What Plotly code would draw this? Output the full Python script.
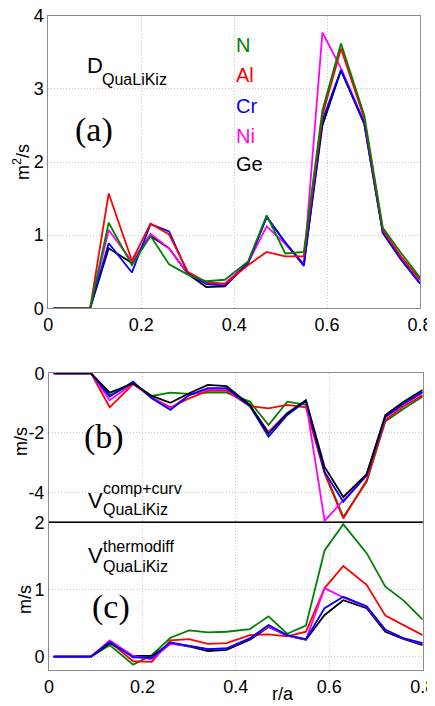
import plotly.graph_objects as go

# ---- data ----
r = [0.01, 0.05, 0.09, 0.13, 0.18, 0.22, 0.26, 0.30, 0.34, 0.38,
     0.43, 0.47, 0.51, 0.55, 0.59, 0.63, 0.68, 0.72, 0.76, 0.80]

species = ["N", "Al", "Cr", "Ni", "Ge"]
colors = {"N": "#008000", "Al": "#ff0000", "Cr": "#0000ff", "Ni": "#ff00ff", "Ge": "#000000"}

D_N  = [0, 0, 0, 1.17, 0.59, 0.99, 0.60, 0.46, 0.37, 0.39, 0.64, 1.27, 0.75, 0.77, 2.71, 3.62, 2.64, 1.10, 0.75, 0.42]
D_Al = [0, 0, 0, 1.57, 0.65, 1.16, 1.01, 0.50, 0.36, 0.33, 0.59, 0.77, 0.71, 0.71, 2.64, 3.55, 2.60, 1.07, 0.70, 0.39]
D_Cr = [0, 0, 0, 0.89, 0.49, 1.15, 1.05, 0.48, 0.33, 0.31, 0.62, 1.25, 0.90, 0.58, 2.57, 3.26, 2.53, 1.03, 0.66, 0.34]
D_Ni = [0, 0, 0, 1.07, 0.64, 1.02, 0.82, 0.48, 0.34, 0.34, 0.62, 1.12, 0.88, 0.60, 3.77, 3.28, 2.55, 1.04, 0.67, 0.35]
D_Ge = [0, 0, 0, 0.82, 0.62, 0.99, 0.82, 0.47, 0.29, 0.30, 0.62, 1.25, 0.90, 0.60, 2.50, 3.25, 2.52, 1.03, 0.66, 0.34]

Vcc_N  = [0, 0, 0, -0.73, -0.36, -0.76, -0.65, -0.69, -0.65, -0.65, -0.95, -1.74, -0.95, -1.06, -3.31, -4.82, -3.64, -1.62, -1.18, -0.78]
Vcc_Al = [0, 0, 0, -1.14, -0.36, -0.81, -1.14, -0.84, -0.59, -0.59, -1.10, -1.18, -1.06, -1.14, -3.36, -4.87, -3.59, -1.57, -1.10, -0.73]
Vcc_Cr = [0, 0, 0, -0.78, -0.28, -0.84, -1.23, -0.73, -0.50, -0.50, -1.10, -2.13, -1.40, -0.93, -3.31, -4.31, -3.42, -1.46, -1.01, -0.62]
Vcc_Ni = [0, 0, 0, -0.90, -0.34, -0.81, -1.18, -0.73, -0.54, -0.54, -1.10, -1.96, -1.34, -0.95, -4.95, -4.26, -3.42, -1.48, -1.03, -0.65]
Vcc_Ge = [0, 0, 0, -0.65, -0.34, -0.76, -0.99, -0.67, -0.39, -0.43, -1.06, -2.02, -1.34, -0.90, -3.14, -4.15, -3.38, -1.40, -0.95, -0.56]

Vtd_N  = [0, 0, 0, 0.17, -0.12, 0.02, 0.28, 0.39, 0.36, 0.37, 0.41, 0.60, 0.34, 0.46, 1.58, 1.97, 1.54, 1.04, 0.83, 0.55]
Vtd_Al = [0, 0, 0, 0.22, -0.07, -0.08, 0.24, 0.26, 0.19, 0.20, 0.32, 0.33, 0.30, 0.37, 1.02, 1.35, 1.07, 0.61, 0.46, 0.32]
Vtd_Cr = [0, 0, 0, 0.22, -0.01, -0.02, 0.21, 0.16, 0.11, 0.12, 0.27, 0.47, 0.32, 0.26, 0.72, 0.89, 0.75, 0.40, 0.27, 0.20]
Vtd_Ni = [0, 0, 0, 0.24, 0.01, -0.04, 0.19, 0.16, 0.11, 0.12, 0.27, 0.45, 0.31, 0.25, 1.02, 0.88, 0.74, 0.40, 0.27, 0.19]
Vtd_Ge = [0, 0, 0, 0.20, 0.01, 0.01, 0.20, 0.15, 0.08, 0.10, 0.25, 0.44, 0.31, 0.25, 0.62, 0.84, 0.72, 0.37, 0.26, 0.17]

x_ticks = [0, 0.2, 0.4, 0.6, 0.8]
x_ticktext = ["0", "0.2", "0.4", "0.6", "0.8"]
ya_ticks = [0, 1, 2, 3, 4]
yb_ticks = [0, -2, -4]
yb_ticktext = ["0", "-2", "-4"]
yc_ticks = [0, 1, 2]

D = {"N": D_N, "Al": D_Al, "Cr": D_Cr, "Ni": D_Ni, "Ge": D_Ge}
Vcc = {"N": Vcc_N, "Al": Vcc_Al, "Cr": Vcc_Cr, "Ni": Vcc_Ni, "Ge": Vcc_Ge}
Vtd = {"N": Vtd_N, "Al": Vtd_Al, "Cr": Vtd_Cr, "Ni": Vtd_Ni, "Ge": Vtd_Ge}

order_a = ["Ge", "Ni", "Cr", "Al", "N"]
order_b = ["N", "Al", "Ni", "Cr", "Ge"]
order_c = ["N", "Al", "Ge", "Ni", "Cr"]

# page body has an 8px margin: the figure is placed at (8, 8) in the window
OFF = 8
W, H = 435 - OFF, 706 - OFF
ML, MR, MT, MB = 40, 12, 7, 36
PW, PH = W - ML - MR, H - MT - MB

def clamp(v):
    return max(0.0, min(1.0, v))

def px(x):  # window pixel -> paper
    return (x - OFF - ML) / PW

def py(y):
    return (H - MB - (y - OFF)) / PH

fig = go.Figure()
lw = 1.8
for s in order_a:
    fig.add_trace(go.Scatter(x=r, y=D[s], mode="lines", line=dict(color=colors[s], width=lw),
                             xaxis="x", yaxis="y", showlegend=False))
for s in order_b:
    fig.add_trace(go.Scatter(x=r, y=Vcc[s], mode="lines", line=dict(color=colors[s], width=lw),
                             xaxis="x2", yaxis="y2", showlegend=False))
for s in order_c:
    fig.add_trace(go.Scatter(x=r, y=Vtd[s], mode="lines", line=dict(color=colors[s], width=lw),
                             xaxis="x3", yaxis="y3", showlegend=False))

FONT = "Liberation Sans, Arial, sans-serif"
SERIF = "Liberation Serif, Times New Roman, serif"
tickfont = dict(family=FONT, size=18, color="black")
frame = "#8c8c8c"
grid = "#c8c8c8"

common_x = dict(range=[0, 0.8], tickvals=x_ticks, ticktext=x_ticktext, showline=True, mirror=True,
                linecolor=frame, linewidth=1, showgrid=True, gridcolor=grid, griddash="1px,2px",
                gridwidth=1, zeroline=False, ticks="", tickfont=tickfont, automargin=False,
                ticklabelstandoff=0, ticklabeloverflow="allow")
common_y = dict(showline=True, mirror=True, linecolor=frame, linewidth=1, showgrid=True,
                gridcolor=grid, griddash="1px,2px", gridwidth=1, zeroline=False, ticks="",
                tickfont=tickfont, ticklabelstandoff=0, automargin=False,
                ticklabeloverflow="allow")

ya = [clamp(py(308.3)), clamp(py(15.7))]
yb = [clamp(py(522.3)), clamp(py(373.3))]
yc = [clamp(py(670)), clamp(py(522.3))]
xa = [clamp(px(48.3)), clamp(px(420))]
xbc = [clamp(px(49)), clamp(px(422.7))]

fig.update_layout(
    width=W, height=H, margin=dict(l=ML, r=MR, t=MT, b=MB, autoexpand=False),
    paper_bgcolor="white", plot_bgcolor="white",
    xaxis=dict(domain=xa, anchor="y", **common_x),
    yaxis=dict(domain=ya, anchor="x", range=[0, 4], tickvals=ya_ticks, **common_y),
    xaxis2=dict(domain=xbc, anchor="y2", showticklabels=False, **common_x),
    yaxis2=dict(domain=yb, anchor="x2", range=[-5, 0], tickvals=yb_ticks,
                ticktext=yb_ticktext, **common_y),
    xaxis3=dict(domain=xbc, anchor="y3", **common_x),
    yaxis3=dict(domain=yc, anchor="x3", range=[-0.2, 2], tickvals=yc_ticks, **common_y),
)

# black separator line between (b) and (c)
fig.add_shape(type="line", xref="paper", yref="paper", x0=xbc[0], x1=xbc[1],
              y0=yb[0], y1=yb[0], line=dict(color="black", width=1.2), layer="above")

ann = []
def text(x, y, t, size, color="black", family=FONT, xanchor="left", angle=0):
    ann.append(dict(x=px(x), y=py(y), xref="paper", yref="paper", text=t, showarrow=False,
                    xanchor=xanchor, yanchor="middle", textangle=angle,
                    font=dict(family=family, size=size, color=color)))

# species labels
leg_y = [45, 75, 106, 136, 164]
for s, yy in zip(species, leg_y):
    text(234, yy, s, 20, colors[s])

# panel labels
text(94, 130, "(a)", 34, family=SERIF, xanchor="center")
text(104, 437, "(b)", 34, family=SERIF, xanchor="center")
text(111, 607, "(c)", 34, family=SERIF, xanchor="center")

# D_QuaLiKiz
text(85, 66, "D", 22)
text(100, 79, "QuaLiKiz", 16)
# V comp+curv
text(86, 500, "V", 22)
text(101, 488, "comp+curv", 16)
text(101, 509, "QuaLiKiz", 16)
# V thermodiff
text(86, 555, "V", 22)
text(101, 546, "thermodiff", 16)
text(101, 566, "QuaLiKiz", 16)

# axis titles
text(22, 162, "m<sup>2</sup>/s", 18, xanchor="center", angle=-90)
text(21, 442, "m/s", 18, xanchor="center", angle=-90)
text(25, 600, "m/s", 18, xanchor="center", angle=-90)
text(283, 694, "r/a", 18, xanchor="center")

fig.update_layout(annotations=ann)
fig.write_html("out.html")
